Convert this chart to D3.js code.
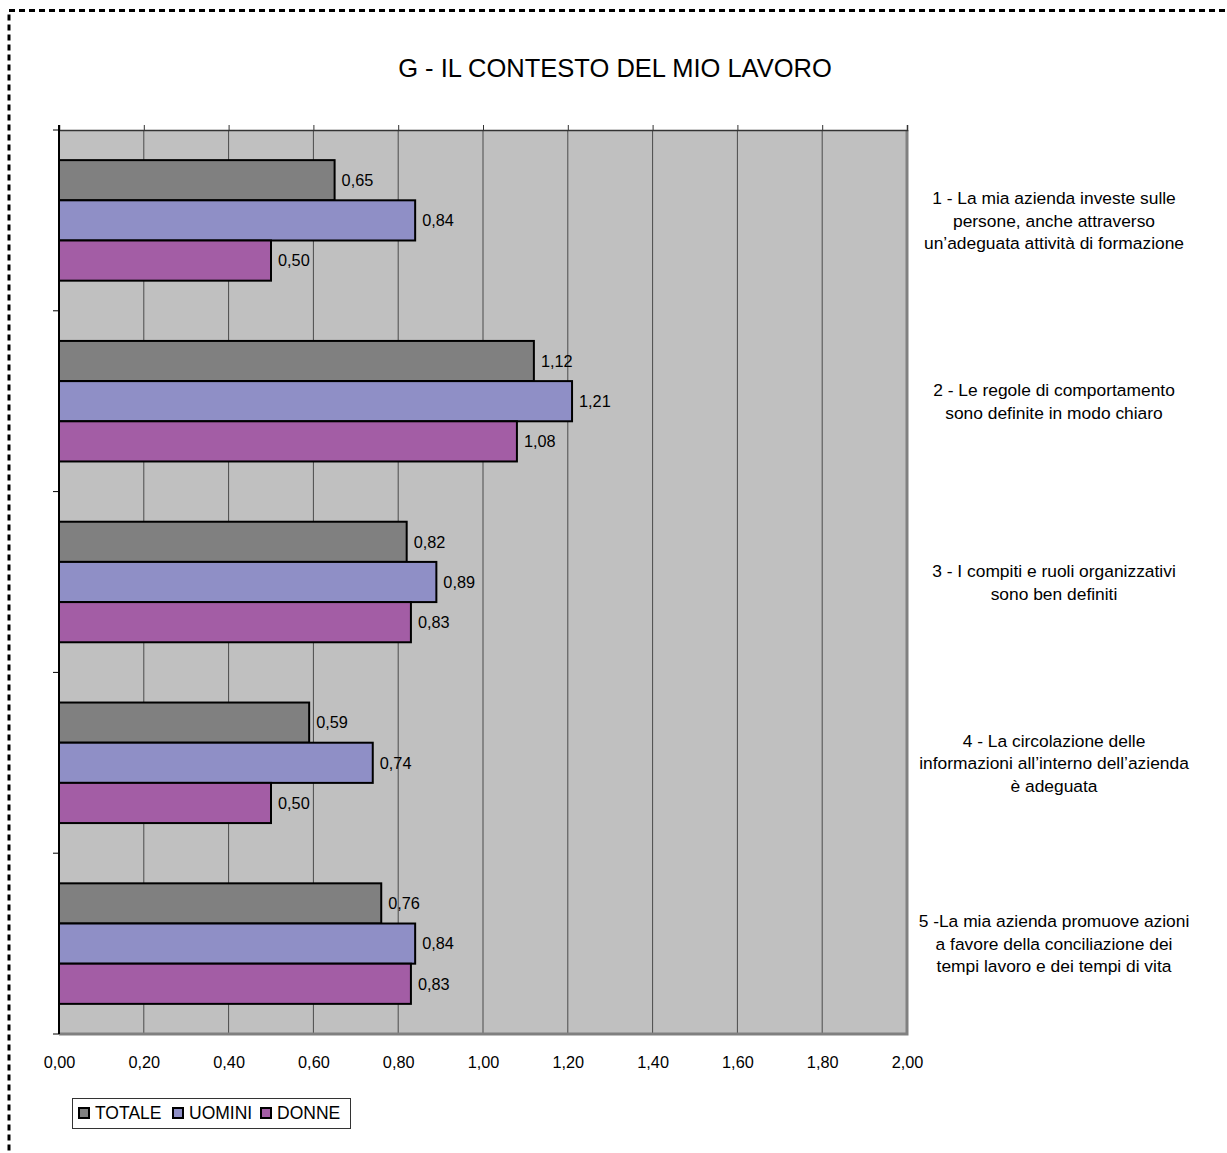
<!DOCTYPE html>
<html>
<head>
<meta charset="utf-8">
<script src="https://cdn.jsdelivr.net/npm/d3@7"></script>
<style>
  html, body { margin: 0; padding: 0; background: #fff; }
  svg { display: block; font-family: "Liberation Sans", Arial, sans-serif; }
</style>
</head>
<body>
<svg id="chart" width="1227" height="1153"></svg>
<script>
// Survey section G: mean scores by group
const categories = ["1", "2", "3", "4", "5"];
const categoryLines = [
  ["1 - La mia azienda investe sulle", "persone, anche attraverso", "un\u2019adeguata attività di formazione"],
  ["2 - Le regole di comportamento", "sono definite in modo chiaro"],
  ["3 - I compiti e ruoli organizzativi", "sono ben definiti"],
  ["4 - La circolazione delle", "informazioni all\u2019interno dell\u2019azienda", "è adeguata"],
  ["5 -La mia azienda promuove azioni", "a favore della conciliazione dei", "tempi lavoro e dei tempi di vita"]
];
const seriesNames = ["TOTALE", "UOMINI", "DONNE"];
const totale = [0.65, 1.12, 0.82, 0.59, 0.76];
const uomini = [0.84, 1.21, 0.89, 0.74, 0.84];
const donne  = [0.50, 1.08, 0.83, 0.50, 0.83];
const xTicks = [0, 0.2, 0.4, 0.6, 0.8, 1.0, 1.2, 1.4, 1.6, 1.8, 2.0];
const titleText = "G - IL CONTESTO DEL MIO LAVORO";

const seriesValues = [totale, uomini, donne];
const colors = ["#808080", "#8F8FC6", "#A35DA5"];

const svg = d3.select("#chart");
const plot = { left: 59, right: 907, top: 130, bottom: 1034 };

const fmt = v => d3.format(".2f")(v).replace(".", ",");

// outer dashed frame
svg.append("rect")
  .attr("x", 9).attr("y", 10.5)
  .attr("width", 1400).attr("height", 1400)
  .attr("fill", "none").attr("stroke", "#000")
  .attr("stroke-width", 3).attr("stroke-dasharray", "6,4");

// title
svg.append("text")
  .attr("x", 615).attr("y", 77)
  .attr("text-anchor", "middle")
  .attr("font-size", 25.5)
  .attr("fill", "#000")
  .text(titleText);

const x = d3.scaleLinear().domain([0, 2]).range([plot.left, plot.right]);
const y = d3.scaleBand().domain(categories)
  .range([plot.top, plot.bottom])
  .paddingInner(1 / 3).paddingOuter(1 / 6);
const ySeries = d3.scaleBand().domain(seriesNames).range([0, y.bandwidth()]);

// plot background
svg.append("rect")
  .attr("x", plot.left).attr("y", plot.top)
  .attr("width", plot.right - plot.left).attr("height", plot.bottom - plot.top)
  .attr("fill", "#C0C0C0");

// vertical gridlines
svg.append("g")
  .selectAll("line")
  .data(xTicks.slice(1, -1))
  .join("line")
  .attr("x1", d => x(d)).attr("x2", d => x(d))
  .attr("y1", plot.top).attr("y2", plot.bottom)
  .attr("stroke", "#4a4a4a").attr("stroke-width", 1);

// right and bottom frame of plot area
svg.append("path")
  .attr("d", `M${plot.right},${plot.top} V${plot.bottom} H${plot.left}`)
  .attr("fill", "none").attr("stroke", "#808080").attr("stroke-width", 3);

// top axis with small ticks
const topAxis = svg.append("g")
  .attr("transform", `translate(0,${plot.top})`)
  .call(d3.axisTop(x).tickValues(xTicks).tickSize(5).tickFormat(""));
topAxis.select(".domain").attr("stroke", "#333").attr("stroke-width", 1.5);
topAxis.selectAll(".tick line").attr("stroke", "#333");

// bottom tick labels
const bottomAxis = svg.append("g")
  .attr("transform", `translate(0,${plot.bottom})`)
  .call(d3.axisBottom(x).tickValues(xTicks).tickSize(0).tickPadding(22).tickFormat(fmt));
bottomAxis.select(".domain").remove();
bottomAxis.selectAll("text")
  .attr("font-size", 16.3)
  .attr("font-family", "Liberation Sans, Arial, sans-serif")
  .attr("fill", "#000");

// left category axis
const boundaries = categories.map(c => y(c) - y.step() * y.paddingOuter()).concat([plot.bottom]);
svg.append("g")
  .selectAll("line")
  .data(boundaries)
  .join("line")
  .attr("x1", plot.left - 6).attr("x2", plot.left)
  .attr("y1", d => d).attr("y2", d => d)
  .attr("stroke", "#000").attr("stroke-width", 1);
svg.append("line")
  .attr("x1", plot.left).attr("x2", plot.left)
  .attr("y1", plot.top - 5).attr("y2", plot.bottom)
  .attr("stroke", "#000").attr("stroke-width", 2);

// bars
const groups = svg.append("g")
  .selectAll("g")
  .data(categories)
  .join("g")
  .attr("transform", c => `translate(0,${y(c)})`);

groups.each(function (c, ci) {
  const g = d3.select(this);
  const rows = seriesNames.map((s, si) => ({ s, si, v: seriesValues[si][ci] }));
  g.selectAll("rect")
    .data(rows)
    .join("rect")
    .attr("x", x(0))
    .attr("y", d => ySeries(d.s))
    .attr("width", d => x(d.v) - x(0))
    .attr("height", ySeries.bandwidth())
    .attr("fill", d => colors[d.si])
    .attr("stroke", "#000").attr("stroke-width", 2);
  g.selectAll("text")
    .data(rows)
    .join("text")
    .attr("x", d => x(d.v) + 7)
    .attr("y", d => ySeries(d.s) + ySeries.bandwidth() / 2)
    .attr("dy", "0.36em")
    .attr("font-size", 16.3)
    .attr("fill", "#000")
    .text(d => fmt(d.v));
});

// category labels on the right
const catLabels = svg.append("g")
  .selectAll("text")
  .data(categories)
  .join("text")
  .attr("text-anchor", "middle")
  .attr("font-size", 17.4)
  .attr("fill", "#000");
catLabels.each(function (c, i) {
  const lines = categoryLines[i];
  const lh = 22.5;
  const cy = y(c) + y.bandwidth() / 2;
  const y0 = cy - (lines.length - 1) * lh / 2;
  d3.select(this).selectAll("tspan")
    .data(lines)
    .join("tspan")
    .attr("x", 1054)
    .attr("y", (d, k) => y0 + k * lh)
    .attr("dy", "0.36em")
    .text(d => d);
});

// legend
const legend = svg.append("g").attr("transform", "translate(72,1098)");
legend.append("rect")
  .attr("x", 0.5).attr("y", 0.5).attr("width", 278).attr("height", 30)
  .attr("fill", "#fff").attr("stroke", "#333").attr("stroke-width", 1);
const legendX = [7, 101, 189];
const legendItems = legend.selectAll("g.item")
  .data(seriesNames)
  .join("g").attr("class", "item")
  .attr("transform", (d, i) => `translate(${legendX[i]},0)`);
legendItems.append("rect")
  .attr("x", 0).attr("y", 10).attr("width", 10).attr("height", 10)
  .attr("fill", (d, i) => colors[i]).attr("stroke", "#000").attr("stroke-width", 2);
legendItems.append("text")
  .attr("x", 16).attr("y", 15).attr("dy", "0.36em")
  .attr("font-size", 17.5).attr("fill", "#000")
  .text(d => d);
</script>
</body>
</html>
